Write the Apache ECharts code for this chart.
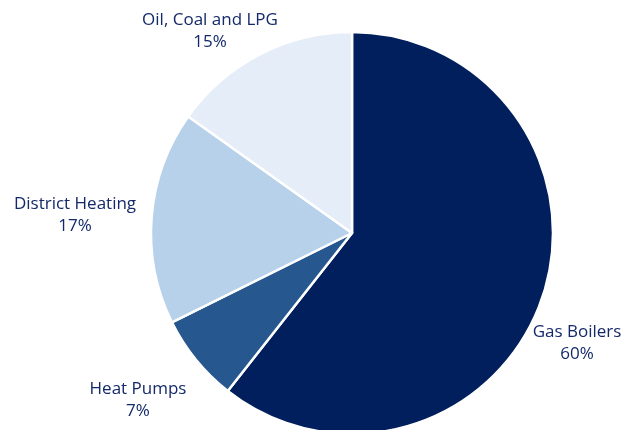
<!DOCTYPE html>
<html>
<head>
<meta charset="utf-8">
<script src="https://cdn.jsdelivr.net/npm/echarts@6/dist/echarts.min.js"></script>
<style>
  html, body { margin: 0; padding: 0; background: #ffffff; }
  #chart { width: 624px; height: 430px; }
</style>
</head>
<body>
<div id="chart"></div>
<script>
// Heating system share (%)
const categories = ['Gas Boilers', 'Heat Pumps', 'District Heating', 'Oil, Coal and LPG'];
const shares = [60, 7, 17, 15];
const sliceColors = ['#001f5c', '#27578f', '#b8d1ea', '#e5edf8'];

// label anchor points (centre of each two-line label)
const labelAnchors = [
  [577, 343],
  [138, 400],
  [75, 215],
  [210, 31]
];

const chart = echarts.init(document.getElementById('chart'), null, { renderer: 'canvas' });

chart.setOption({
  animation: false,
  series: [{
    type: 'pie',
    center: [352, 233],
    radius: 201,
    startAngle: 90,
    clockwise: true,
    data: categories.map((name, i) => ({
      name: name,
      value: shares[i],
      itemStyle: { color: sliceColors[i] }
    })),
    itemStyle: { borderColor: '#ffffff', borderWidth: 2.5 },
    label: {
      show: true,
      position: 'outside',
      alignTo: 'none',
      overflow: 'none',
      formatter: p => p.name + '\n' + p.value + '%',
      color: '#14296a',
      fontFamily: 'Open Sans',
      fontSize: 17,
      lineHeight: 22,
      align: 'center'
    },
    labelLine: { show: false },
    labelLayout: function (params) {
      const a = labelAnchors[params.dataIndex];
      return {
        x: a[0],
        y: a[1],
        width: 220,
        align: 'center',
        verticalAlign: 'middle',
        hideOverlap: false
      };
    },
    emphasis: { disabled: true }
  }]
});
</script>
</body>
</html>
